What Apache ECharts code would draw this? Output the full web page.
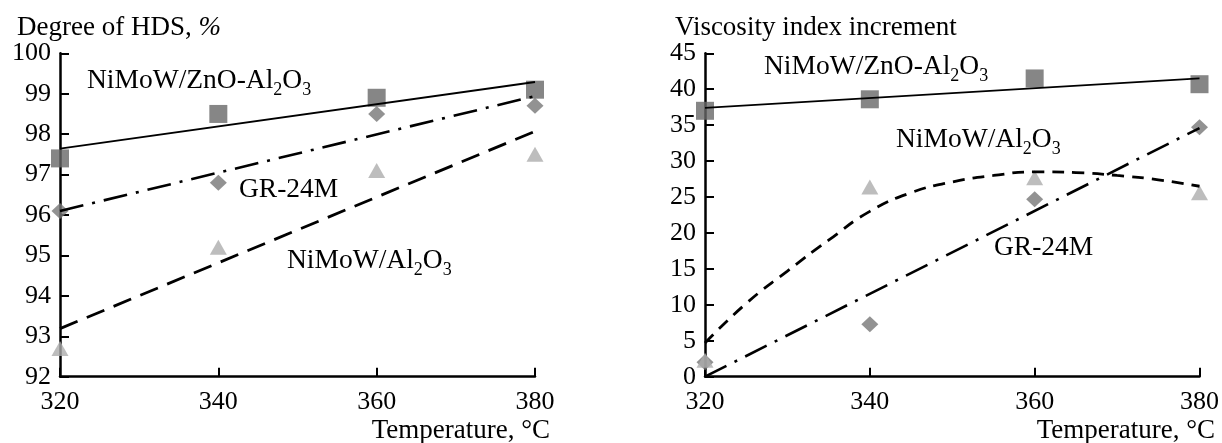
<!DOCTYPE html>
<html>
<head>
<meta charset="utf-8">
<script src="https://cdn.jsdelivr.net/npm/echarts@6/dist/echarts.min.js"></script>
<style>html,body{margin:0;padding:0;background:#fff}#c{width:1222px;height:443px}</style>
</head>
<body>
<div id="c"></div>
<script>
// ---- data ----
const temps = [320, 340, 360, 380];
const trendTemps = [320, 380];
const xTicks = [320, 340, 360, 380];
// Degree of HDS, %
const hdsZnO = [97.4, 98.5, 98.9, 99.1];
const hdsGR = [96.1, 96.8, 98.5, 98.7];
const hdsAl = [92.7, 95.2, 97.1, 97.5];
const hdsZnOTrend = [97.64, 99.29];
const hdsGRTrend = [96.1, 98.94];
const hdsAlTrend = [93.19, 98.07];
// Viscosity index increment
const viZnO = [37.0, 38.6, 41.5, 40.7];
const viGR = [2.0, 7.3, 24.7, 34.7];
const viAl = [2.3, 26.4, 27.7, 25.6];
const viZnOTrend = [37.4, 41.5];
const viGRTrend = [0, 34.6];
const curveTemps = [320, 325, 330, 335, 340, 345, 350, 355, 360, 365, 370, 375, 380];
const viAlCurve = [4.7, 10.2, 14.7, 19.0, 23.0, 25.6, 27.1, 28.0, 28.5, 28.4, 28.0, 27.4, 26.5];

const FONT = 'Liberation Serif';
const pair = (xs, ys) => xs.map((x, i) => [x, ys[i]]);

const chart = echarts.init(document.getElementById('c'), null, {renderer: 'canvas'});

function xAxisCfg(gi) {
  return {
    type: 'value', gridIndex: gi, min: 320, max: 380, interval: 20,
    axisLine: {onZero: false, lineStyle: {color: '#000', width: 2.5}},
    axisTick: {inside: true, length: 9, lineStyle: {color: '#000', width: 2}},
    axisLabel: {color: '#000', fontFamily: FONT, fontSize: 26, margin: 12,
      formatter: v => xTicks.includes(v) ? String(v) : ''},
    splitLine: {show: false}
  };
}
function yAxisCfg(gi, min, max, interval) {
  return {
    type: 'value', gridIndex: gi, min: min, max: max, interval: interval,
    axisLine: {show: true, lineStyle: {color: '#000', width: 2.5}},
    axisTick: {show: true, inside: true, length: 9, lineStyle: {color: '#000', width: 2}},
    axisLabel: {color: '#000', fontFamily: FONT, fontSize: 26, margin: 9},
    splitLine: {show: false}
  };
}
const sqStyle = {symbol: 'rect', symbolSize: 18, itemStyle: {color: '#686868'}};
const diStyle = {symbol: 'diamond', symbolSize: [17, 16], itemStyle: {color: '#777777'}};
const trStyle = {symbol: 'triangle', symbolSize: [17, 15], itemStyle: {color: '#adadad'}};
function scatter(xi, data, st, z) {
  return Object.assign({type: 'scatter', xAxisIndex: xi, yAxisIndex: xi, data: data, z: z, silent: true}, st);
}
function line(xi, data, ls, smooth) {
  return {type: 'line', xAxisIndex: xi, yAxisIndex: xi, data: data, showSymbol: false, symbol: 'none',
    smooth: smooth || false, lineStyle: Object.assign({color: '#000'}, ls), z: 5, silent: true, clip: true};
}
const solid = {width: 1.8, type: 'solid'};
const dashDot = {width: 2.6, type: [24, 9, 3, 9]};
const dashedL = {width: 2.8, type: [19, 10]};
const dashedR = {width: 2.8, type: [12, 8]};

const rich = {
  a: {fontFamily: FONT, fontSize: 27.5, color: '#000', lineHeight: 31, verticalAlign: 'top'},
  s: {fontFamily: FONT, fontSize: 18, color: '#000', lineHeight: 18, padding: [15, 0, 0, 0]}
};
function label(x, y, text) {
  return {type: 'text', left: x, top: y, style: {text: text, rich: rich, fill: '#000'}, silent: true};
}
const titleStyle = {fontFamily: FONT, fontSize: 27, fontWeight: 'normal', color: '#000'};

chart.setOption({
  animation: false,
  backgroundColor: '#fff',
  textStyle: {fontFamily: FONT},
  title: [
    {text: '{a|Degree of HDS, }{i|%}', left: 12, top: 9,
      textStyle: {fontWeight: 'normal', rich: {
        a: {fontFamily: FONT, fontSize: 27, fontWeight: 'normal', color: '#000'},
        i: {fontFamily: FONT, fontSize: 27, fontWeight: 'normal', fontStyle: 'italic', color: '#000'}}}},
    {text: 'Viscosity index increment', left: 670, top: 9, textStyle: titleStyle},
    {text: 'Temperature, °C', right: 667, top: 412, textStyle: titleStyle},
    {text: 'Temperature, °C', right: 2, top: 412, textStyle: titleStyle}
  ],
  grid: [
    {left: 60, top: 53.3, width: 475, height: 323.4, containLabel: false},
    {left: 705, top: 53.3, width: 495, height: 323.4, containLabel: false}
  ],
  xAxis: [xAxisCfg(0), xAxisCfg(1)],
  yAxis: [yAxisCfg(0, 92, 100, 1), yAxisCfg(1, 0, 45, 5)],
  series: [
    scatter(0, pair(temps, hdsZnO), sqStyle, 2),
    scatter(0, pair(temps, hdsGR), diStyle, 3),
    scatter(0, pair(temps, hdsAl), trStyle, 3),
    line(0, pair(trendTemps, hdsZnOTrend), solid),
    line(0, pair(trendTemps, hdsGRTrend), dashDot),
    line(0, pair(trendTemps, hdsAlTrend), dashedL),
    scatter(1, pair(temps, viZnO), sqStyle, 2),
    scatter(1, pair(temps, viGR), diStyle, 3),
    scatter(1, pair(temps, viAl), trStyle, 4),
    line(1, pair(trendTemps, viZnOTrend), solid),
    line(1, pair(trendTemps, viGRTrend), dashDot),
    line(1, pair(curveTemps, viAlCurve), dashedR, 0.5)
  ],
  graphic: [
    label(87, 66, '{a|NiMoW/ZnO-Al}{s|2}{a|O}{s|3}'),
    label(239, 176, '{a|GR-24M}'),
    label(287, 246, '{a|NiMoW/Al}{s|2}{a|O}{s|3}'),
    label(764, 52, '{a|NiMoW/ZnO-Al}{s|2}{a|O}{s|3}'),
    label(896, 125, '{a|NiMoW/Al}{s|2}{a|O}{s|3}'),
    label(994, 234, '{a|GR-24M}')
  ]
});
</script>
</body>
</html>
